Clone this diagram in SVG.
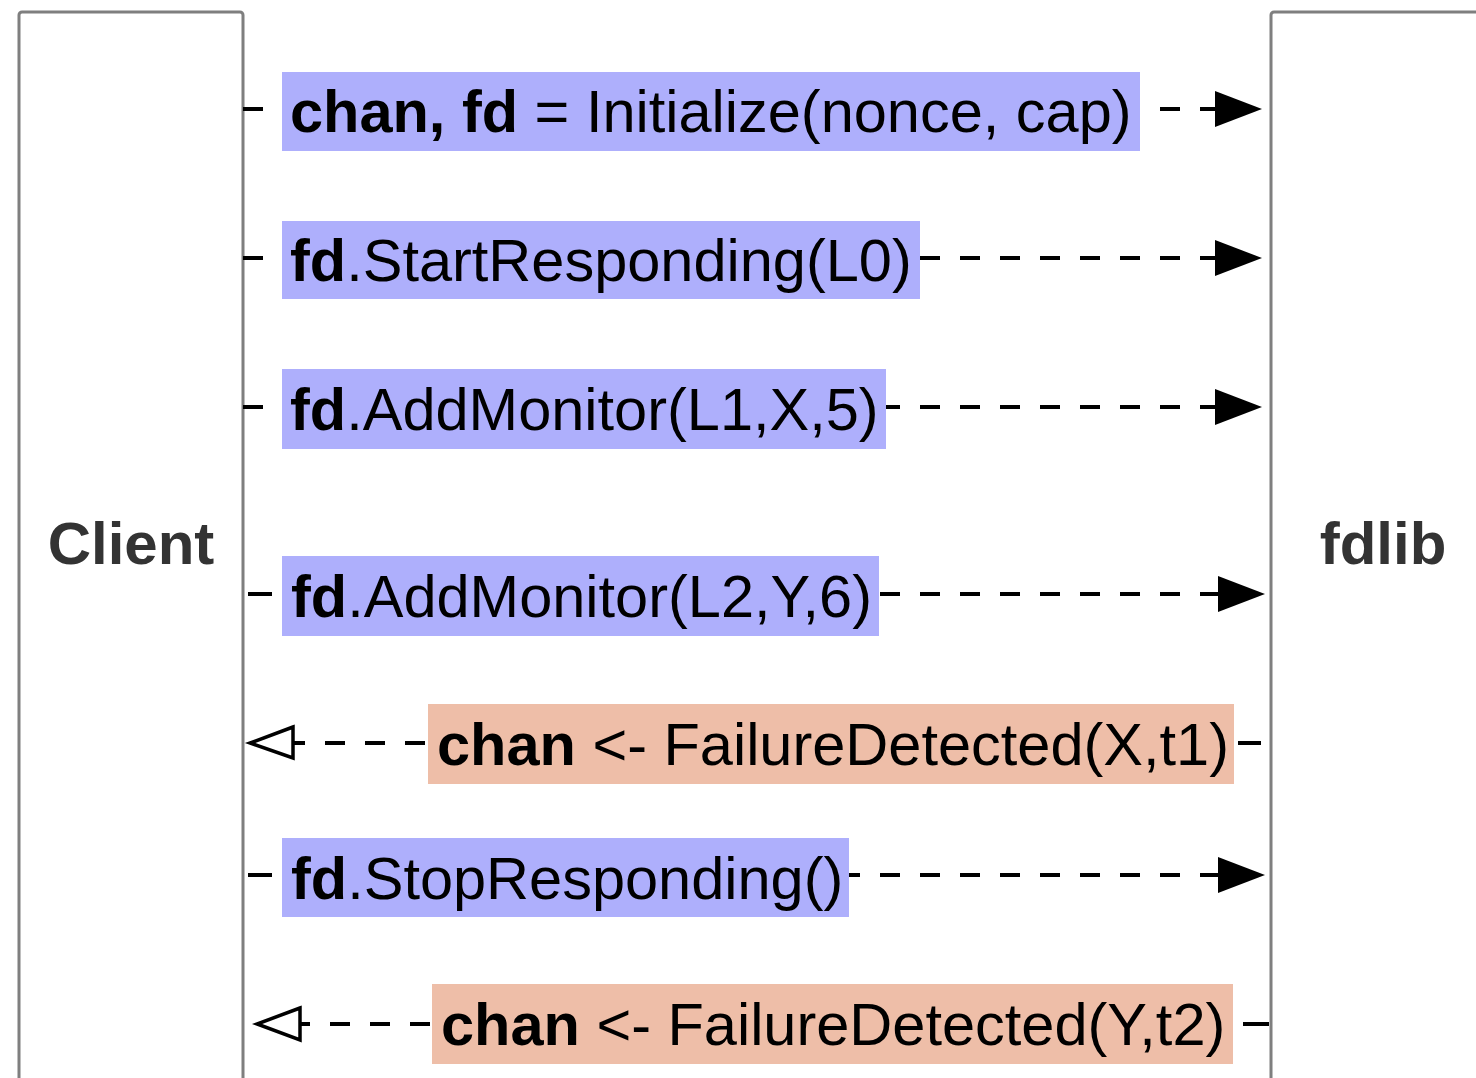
<svg xmlns="http://www.w3.org/2000/svg" width="1476" height="1078" viewBox="0 0 1476 1078">
  <style>
    .actor { fill: #ffffff; stroke: #7f7f7f; stroke-width: 3; }
    .actor-name { font-family: "Liberation Sans", Arial, sans-serif; font-size: 60px; font-weight: bold; fill: #333333; text-anchor: middle; }
    .call-bg { fill: #aeaffc; }
    .event-bg { fill: #eebea8; }
    .msg { font-family: "Liberation Sans", Arial, sans-serif; font-size: 59.5px; fill: #000000; }
    .msg .b { font-weight: bold; }
    .line { stroke: #000000; stroke-width: 4; fill: none; }
    .dash { stroke: #000000; stroke-width: 4; fill: none; stroke-dasharray: 20 20; }
    .head-solid { fill: #000000; }
    .head-open { fill: #ffffff; stroke: #000000; stroke-width: 3.5; stroke-linejoin: miter; }
  </style>

  <!-- lifeline boxes -->
  <g id="client">
    <rect class="actor" x="19" y="12" width="224" height="1070" rx="3"/>
    <text class="actor-name" x="131" y="564">Client</text>
  </g>
  <g id="fdlib">
    <rect class="actor" x="1271" y="12" width="240" height="1070" rx="3"/>
    <text class="actor-name" x="1383" y="564">fdlib</text>
  </g>

  <!-- message connectors -->
  <g id="connectors">
    <!-- Initialize -->
    <line class="line" x1="243" y1="109" x2="263" y2="109"/>
    <line class="dash" x1="1160" y1="109" x2="1220" y2="109"/>
    <polygon class="head-solid" points="1215,91 1262,109 1215,127"/>
    <!-- StartResponding -->
    <line class="line" x1="243" y1="258" x2="263" y2="258"/>
    <line class="dash" x1="920" y1="258" x2="1220" y2="258"/>
    <polygon class="head-solid" points="1215,240 1262,258 1215,276"/>
    <!-- AddMonitor L1 -->
    <line class="line" x1="243" y1="407" x2="263" y2="407"/>
    <line class="dash" x1="880" y1="407" x2="1220" y2="407"/>
    <polygon class="head-solid" points="1215,389 1262,407 1215,425"/>
    <!-- AddMonitor L2 -->
    <line class="line" x1="248" y1="594" x2="272" y2="594"/>
    <line class="dash" x1="880" y1="594" x2="1220" y2="594"/>
    <polygon class="head-solid" points="1218,576 1265,594 1218,612"/>
    <!-- FailureDetected X -->
    <line class="line" x1="1238" y1="743" x2="1261" y2="743"/>
    <line class="dash" x1="285" y1="743" x2="428" y2="743"/>
    <polygon class="head-open" points="293,727 250,743 293,758"/>
    <!-- StopResponding -->
    <line class="line" x1="248" y1="875" x2="272" y2="875"/>
    <line class="dash" x1="840" y1="875" x2="1220" y2="875"/>
    <polygon class="head-solid" points="1218,857 1265,875 1218,893"/>
    <!-- FailureDetected Y -->
    <line class="line" x1="1243" y1="1024" x2="1269" y2="1024"/>
    <line class="dash" x1="290" y1="1024" x2="432" y2="1024"/>
    <polygon class="head-open" points="300,1008 257,1024 300,1040"/>
  </g>

  <!-- message labels -->
  <g id="msg-initialize">
    <rect class="call-bg" x="282" y="72" width="858" height="79"/>
    <text class="msg" x="290" y="132"><tspan class="b">chan, fd</tspan> = Initialize(nonce, cap)</text>
  </g>
  <g id="msg-start-responding">
    <rect class="call-bg" x="282" y="221" width="638" height="78"/>
    <text class="msg" x="290" y="281"><tspan class="b">fd</tspan>.StartResponding(L0)</text>
  </g>
  <g id="msg-add-monitor-1">
    <rect class="call-bg" x="282" y="369" width="604" height="80"/>
    <text class="msg" x="290" y="430"><tspan class="b">fd</tspan>.AddMonitor(L1,X,5)</text>
  </g>
  <g id="msg-add-monitor-2">
    <rect class="call-bg" x="282" y="556" width="597" height="80"/>
    <text class="msg" x="291" y="617"><tspan class="b">fd</tspan>.AddMonitor(L2,Y,6)</text>
  </g>
  <g id="msg-failure-x">
    <rect class="event-bg" x="428" y="704" width="806" height="80"/>
    <text class="msg" x="437" y="765"><tspan class="b">chan</tspan> &lt;- FailureDetected(X,t1)</text>
  </g>
  <g id="msg-stop-responding">
    <rect class="call-bg" x="282" y="838" width="567" height="79"/>
    <text class="msg" x="291" y="899"><tspan class="b">fd</tspan>.StopResponding()</text>
  </g>
  <g id="msg-failure-y">
    <rect class="event-bg" x="432" y="984" width="801" height="80"/>
    <text class="msg" x="441" y="1045"><tspan class="b">chan</tspan> &lt;- FailureDetected(Y,t2)</text>
  </g>
</svg>
